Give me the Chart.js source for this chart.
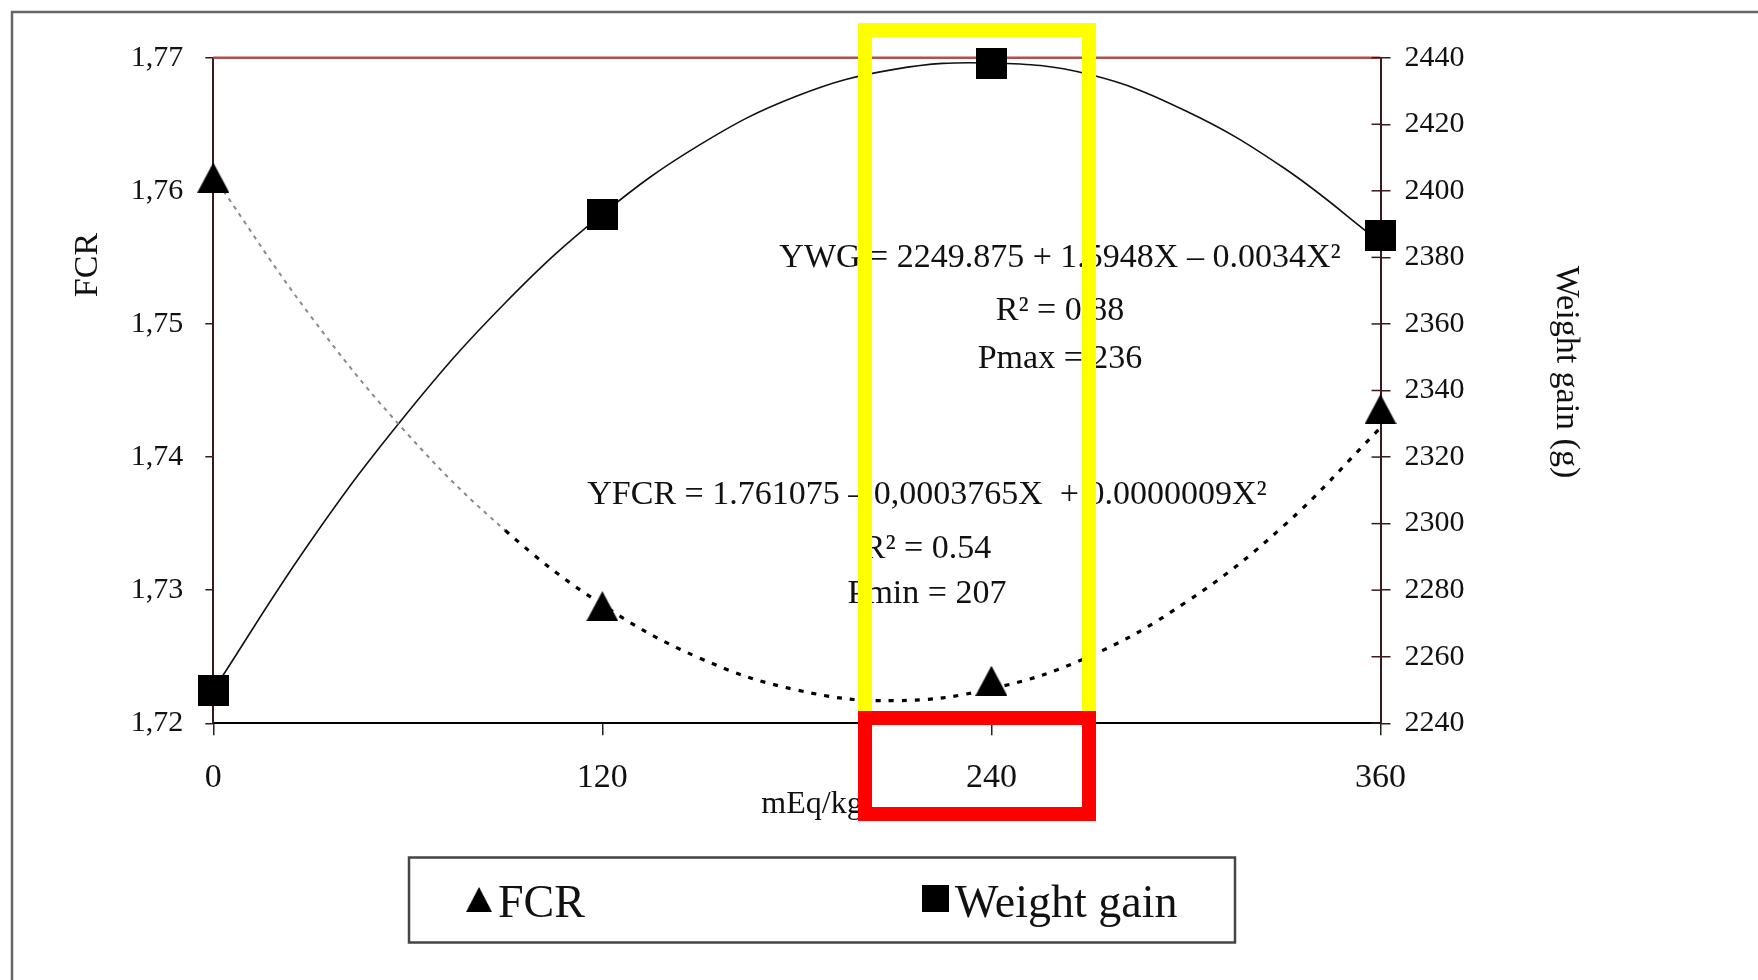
<!DOCTYPE html>
<html>
<head>
<meta charset="utf-8">
<script src="https://cdn.jsdelivr.net/npm/chart.js@4.4.1/dist/chart.umd.min.js"></script>
<style>
html,body{margin:0;padding:0;background:#fff;overflow:hidden}
#wrap{position:relative;width:1758px;height:980px;background:#fff}
</style>
</head>
<body>
<div id="wrap"><canvas id="c" width="1758" height="980"></canvas></div>
<script>
// ---- data ----
const doses = [0, 120, 240, 360];
const fcrValues = [1.7610, 1.7288, 1.7232, 1.7436];
const weightGainValues = [2249.9, 2393.0, 2438.2, 2386.7];

// fitted curves as drawn in the picture (read every 30 mEq/kg)
const trendDoses = [0, 30, 60, 90, 120, 150, 180, 210, 240, 270, 300, 330, 360];
const fcrTrend = [1.7611, 1.7506, 1.7417, 1.7345, 1.7289, 1.7249, 1.7225, 1.7217, 1.7226, 1.7250, 1.7291, 1.7348, 1.7422];
const wgTrend = [2249.9, 2294.7, 2333.5, 2366.3, 2393.0, 2413.8, 2428.5, 2436.5, 2438.4, 2435.0, 2424.0, 2407.0, 2384.5];

// tick labels
const xTickValues = [0, 120, 240, 360];
const xTickLabels = ['0', '120', '240', '360'];
const fcrTickValues = [1.72, 1.73, 1.74, 1.75, 1.76, 1.77];
const fcrTickLabels = ['1,72', '1,73', '1,74', '1,75', '1,76', '1,77'];
const wgTickValues = [2240, 2260, 2280, 2300, 2320, 2340, 2360, 2380, 2400, 2420, 2440];
const wgTickLabels = ['2240', '2260', '2280', '2300', '2320', '2340', '2360', '2380', '2400', '2420', '2440'];

// texts
const fcrLabel = 'FCR';
const wgLabel = 'Weight gain';
const xTitle = 'mEq/kg';
const leftTitle = 'FCR';
const rightTitle = 'Weight gain (g)';
const wgEquation = ['YWG = 2249.875 + 1.5948X \u2013 0.0034X\u00B2', 'R\u00B2 = 0.88', 'Pmax = 236'];
const fcrEquation = ['YFCR = 1.761075 \u2013 0,0003765X  + 0.0000009X\u00B2', 'R\u00B2 = 0.54', 'Pmin = 207'];

const SERIF = '"Liberation Serif", "Times New Roman", serif';

function triangleImage(w, h) {
  const c = document.createElement('canvas');
  c.width = w; c.height = h;
  const g = c.getContext('2d');
  g.fillStyle = '#000';
  g.beginPath(); g.moveTo(w / 2, 0); g.lineTo(w, h); g.lineTo(0, h); g.closePath(); g.fill();
  return c;
}
function squareImage(w, h) {
  const c = document.createElement('canvas');
  c.width = w; c.height = h;
  const g = c.getContext('2d');
  g.fillStyle = '#000';
  g.fillRect(0, 0, w, h);
  return c;
}
const triMarker = triangleImage(32, 30);
const sqMarker = squareImage(31, 31);

const overlay = {
  id: 'overlay',
  beforeDatasetsDraw(chart) {
    const {ctx, chartArea: a} = chart;
    ctx.save();
    ctx.strokeStyle = '#b04f4f';
    ctx.lineWidth = 2.5;
    ctx.beginPath(); ctx.moveTo(a.left, a.top); ctx.lineTo(a.right, a.top); ctx.stroke();
    ctx.restore();
  },
  afterDraw(chart) {
    const {ctx, chartArea: a} = chart;
    const y2 = chart.scales.y2;
    ctx.save();
    // inner halves of the right-axis cross ticks
    ctx.strokeStyle = '#3a1a1a';
    ctx.lineWidth = 1.5;
    wgTickValues.forEach(v => {
      const py = y2.getPixelForValue(v);
      ctx.beginPath(); ctx.moveTo(a.right - 9, py); ctx.lineTo(a.right, py); ctx.stroke();
    });

    ctx.fillStyle = '#111';
    // axis titles
    ctx.font = '34px ' + SERIF;
    ctx.textAlign = 'center';
    ctx.textBaseline = 'middle';
    ctx.save(); ctx.translate(88, 265); ctx.rotate(-Math.PI / 2); ctx.fillText(leftTitle, 0, 0); ctx.restore();
    ctx.save(); ctx.translate(1566, 372); ctx.rotate(Math.PI / 2); ctx.fillText(rightTitle, 0, 0); ctx.restore();
    ctx.font = '32px ' + SERIF;
    ctx.textBaseline = 'alphabetic';
    ctx.fillText(xTitle, 812, 813);

    // equations
    ctx.font = '34px ' + SERIF;
    ctx.textBaseline = 'middle';
    [258, 311, 359].forEach((y, i) => ctx.fillText(wgEquation[i], 1060, y));
    [495, 549, 594].forEach((y, i) => ctx.fillText(fcrEquation[i], 927, y));

    // legend
    ctx.strokeStyle = '#444';
    ctx.lineWidth = 2.5;
    ctx.strokeRect(409, 857.5, 826, 85);
    ctx.drawImage(triMarker, 466, 887, 26, 25);
    ctx.drawImage(sqMarker, 922, 885, 27, 27);
    ctx.font = '46px ' + SERIF;
    ctx.textAlign = 'left';
    ctx.textBaseline = 'alphabetic';
    ctx.fillText(fcrLabel, 498, 917);
    ctx.fillText(wgLabel, 955, 917);

    // outer frame
    ctx.strokeStyle = '#666';
    ctx.lineWidth = 2.5;
    ctx.beginPath(); ctx.moveTo(12, 1000); ctx.lineTo(12, 12); ctx.lineTo(1780, 12); ctx.stroke();

    // highlight boxes
    ctx.lineWidth = 14;
    ctx.strokeStyle = '#ffff00';
    ctx.strokeRect(865, 30, 224, 688);
    ctx.strokeStyle = '#ff0000';
    ctx.strokeRect(865, 718, 224, 96);
    ctx.restore();
  }
};

const tickFont = {family: SERIF, size: 30};

new Chart(document.getElementById('c'), {
  type: 'line',
  data: {
    datasets: [
      {
        label: fcrLabel,
        data: doses.map((d, i) => ({x: d, y: fcrValues[i]})),
        yAxisID: 'y', showLine: false, clip: false,
        pointStyle: triMarker, pointRadius: 16,
        backgroundColor: '#000', borderColor: '#000'
      },
      {
        label: wgLabel,
        data: doses.map((d, i) => ({x: d, y: weightGainValues[i]})),
        yAxisID: 'y2', showLine: false, clip: false,
        pointStyle: sqMarker, pointRadius: 16,
        backgroundColor: '#000', borderColor: '#000'
      },
      {
        label: 'FCR trend',
        data: trendDoses.map((d, i) => ({x: d, y: fcrTrend[i]})),
        yAxisID: 'y', pointRadius: 0, tension: 0.4,
        borderColor: '#000', borderWidth: 3, borderDash: [5, 8],
        segment: {
          borderColor: c => c.p0DataIndex < 3 ? '#8a8a8a' : '#000',
          borderWidth: c => c.p0DataIndex < 3 ? 2 : 3.2,
          borderDash: c => c.p0DataIndex < 3 ? [4, 5] : [5, 8]
        }
      },
      {
        label: 'Weight gain trend',
        data: trendDoses.map((d, i) => ({x: d, y: wgTrend[i]})),
        yAxisID: 'y2', pointRadius: 0, tension: 0.4,
        borderColor: '#111', borderWidth: 1.6
      }
    ]
  },
  options: {
    responsive: false, animation: false, devicePixelRatio: 1,
    layout: {padding: {top: 57.7, left: 0, right: 0, bottom: 0}},
    plugins: {legend: {display: false}, tooltip: {enabled: false}},
    scales: {
      x: {
        type: 'linear', position: 'bottom', min: 0, max: 360,
        afterBuildTicks: s => { s.ticks = xTickValues.map(v => ({value: v})); },
        ticks: {callback: (v, i) => xTickLabels[i], font: {family: SERIF, size: 34}, color: '#111', padding: 22, maxRotation: 0, autoSkip: false},
        grid: {display: true, drawOnChartArea: false, drawTicks: true, tickLength: 12, color: '#222', lineWidth: 1.5},
        border: {display: true, color: '#000', width: 2},
        afterFit: s => { s.height = 980 - 723.3; }
      },
      y: {
        position: 'left', min: 1.72, max: 1.77,
        afterBuildTicks: s => { s.ticks = fcrTickValues.map(v => ({value: v})); },
        ticks: {callback: (v, i) => fcrTickLabels[i], font: tickFont, color: '#111', padding: 22, autoSkip: false},
        grid: {display: true, drawOnChartArea: false, drawTicks: true, tickLength: 8, color: '#3a1a1a', lineWidth: 1.5},
        border: {display: true, color: '#3a1a1a', width: 2},
        afterFit: s => { s.width = 213.3; }
      },
      y2: {
        position: 'right', min: 2240, max: 2440,
        afterBuildTicks: s => { s.ticks = wgTickValues.map(v => ({value: v})); },
        ticks: {callback: (v, i) => wgTickLabels[i], font: tickFont, color: '#111', padding: 14, autoSkip: false},
        grid: {display: true, drawOnChartArea: false, drawTicks: true, tickLength: 10, color: '#3a1a1a', lineWidth: 1.5},
        border: {display: true, color: '#3a1a1a', width: 2},
        afterFit: s => { s.width = 1758 - 1380.5; }
      }
    }
  },
  plugins: [overlay]
});
</script>
</body>
</html>
